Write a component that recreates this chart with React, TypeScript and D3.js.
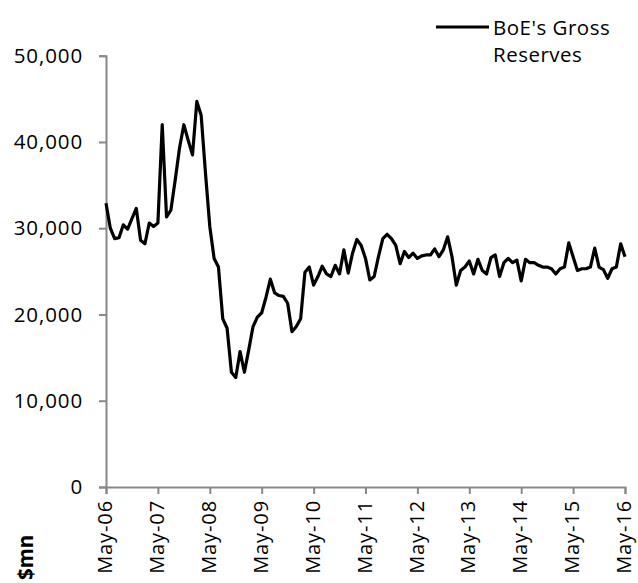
import React, { useEffect, useRef } from "react";
import * as d3 from "d3";

// monthly values, $ thousand mn, May-06 .. May-16
const reserves2006 = [32.9, 30.0, 28.8, 28.9, 30.4, 29.9, 31.1, 32.3];
const reserves2007 = [28.6, 28.2, 30.6, 30.2, 30.6, 42.0, 31.3, 32.1, 35.6, 39.3, 42.0, 40.2];
const reserves2008 = [38.5, 44.7, 43.1, 36.4, 30.2, 26.5, 25.5, 19.5, 18.4, 13.3, 12.7, 15.7];
const reserves2009 = [13.3, 15.9, 18.6, 19.7, 20.2, 22.0, 24.1, 22.5, 22.2, 22.1, 21.3, 18.0];
const reserves2010 = [18.6, 19.5, 24.9, 25.5, 23.4, 24.4, 25.6, 24.7, 24.4, 25.7, 24.7, 27.5];
const reserves2011 = [24.8, 27.1, 28.7, 28.0, 26.5, 24.0, 24.4, 26.7, 28.8, 29.3, 28.8, 28.0];
const reserves2012 = [25.9, 27.3, 26.6, 27.1, 26.5, 26.8, 26.9, 26.9, 27.6, 26.7, 27.5, 29.0];
const reserves2013 = [26.7, 23.4, 25.1, 25.5, 26.2, 24.7, 26.4, 25.1, 24.7, 26.6, 26.9, 24.4];
const reserves2014 = [26.0, 26.5, 26.0, 26.3, 23.9, 26.4, 26.0, 26.0, 25.7, 25.5, 25.5, 25.3];
const reserves2015 = [24.7, 25.3, 25.5, 28.3, 26.7, 25.1, 25.3, 25.3, 25.5, 27.7, 25.5, 25.2];
const reserves2016 = [24.2, 25.3, 25.5, 28.2, 26.7];

const reserves = [
  ...reserves2006, ...reserves2007, ...reserves2008, ...reserves2009, ...reserves2010, ...reserves2011,
  ...reserves2012, ...reserves2013, ...reserves2014, ...reserves2015, ...reserves2016,
].map(v => v * 1000);

const tickLabels = ["May-06", "May-07", "May-08", "May-09", "May-10", "May-11", "May-12", "May-13", "May-14", "May-15", "May-16"];
const yTicks = [0, 10000, 20000, 30000, 40000, 50000];
const seriesName = ["BoE's Gross", "Reserves"];

const FONT = "'Open Sans', 'Noto Sans', sans-serif";
const FS = 20.5;
const LS = 0.9;

export default function App() {
  const ref = useRef<SVGSVGElement>(null);

  useEffect(() => {
    const svg = d3.select(ref.current);
    svg.selectAll("*").remove();

    const margin = { left: 106, right: 12, top: 56, bottom: 96 };
    const w = 638, h = 583;

    const x = d3.scaleLinear().domain([0, reserves.length - 1]).range([margin.left, w - margin.right - 1]);
    const y = d3.scaleLinear().domain([0, 50000]).range([h - margin.bottom, margin.top - 0.3]);

    // y axis
    const yAxis = svg.append("g").attr("transform", `translate(${margin.left},0)`)
      .call(d3.axisLeft(y).tickValues(yTicks).tickSize(7).tickPadding(16).tickFormat(d3.format(",")));
    yAxis.selectAll("line,path").attr("stroke", "#888").attr("stroke-width", 2);
    yAxis.selectAll("text").attr("font-family", FONT).attr("font-size", FS).attr("letter-spacing", LS).attr("fill", "#000");

    // x axis
    const xAxis = svg.append("g").attr("transform", `translate(0,${h - margin.bottom})`)
      .call(d3.axisBottom(x).tickValues(tickLabels.map((_, i) => i * 12)).tickSize(7).tickFormat((d: any) => tickLabels[d / 12]));
    xAxis.selectAll("line,path").attr("stroke", "#888").attr("stroke-width", 2);
    xAxis.selectAll("text")
      .attr("font-family", FONT).attr("font-size", 20).attr("letter-spacing", LS).attr("fill", "#000")
      .attr("transform", "rotate(-90)")
      .attr("text-anchor", "end")
      .attr("x", -13).attr("y", 0).attr("dy", "0.28em");

    // line
    const line = d3.line<number>().x((_, i) => x(i)).y(d => y(d));
    svg.append("path").datum(reserves)
      .attr("d", line)
      .attr("fill", "none").attr("stroke", "#000").attr("stroke-width", 3.2).attr("stroke-linejoin", "round");

    // unit label
    svg.append("text")
      .attr("transform", `translate(33,${h - 3}) rotate(-90)`)
      .attr("font-family", FONT).attr("font-size", FS).attr("font-weight", "bold")
      .text("$mn");

    // legend
    svg.append("line").attr("x1", 436).attr("x2", 489).attr("y1", 27).attr("y2", 27)
      .attr("stroke", "#000").attr("stroke-width", 3.2);
    svg.append("text").attr("x", 493).attr("y", 35)
      .attr("font-family", FONT).attr("font-size", FS).attr("letter-spacing", 0.5)
      .selectAll("tspan").data(seriesName).join("tspan")
      .attr("x", 493).attr("dy", (_, i) => (i === 0 ? 0 : 27))
      .text(d => d);
  }, []);

  return <svg ref={ref} width={638} height={583} style={{ position: "absolute", left: 0, top: 0 }} />;
}
